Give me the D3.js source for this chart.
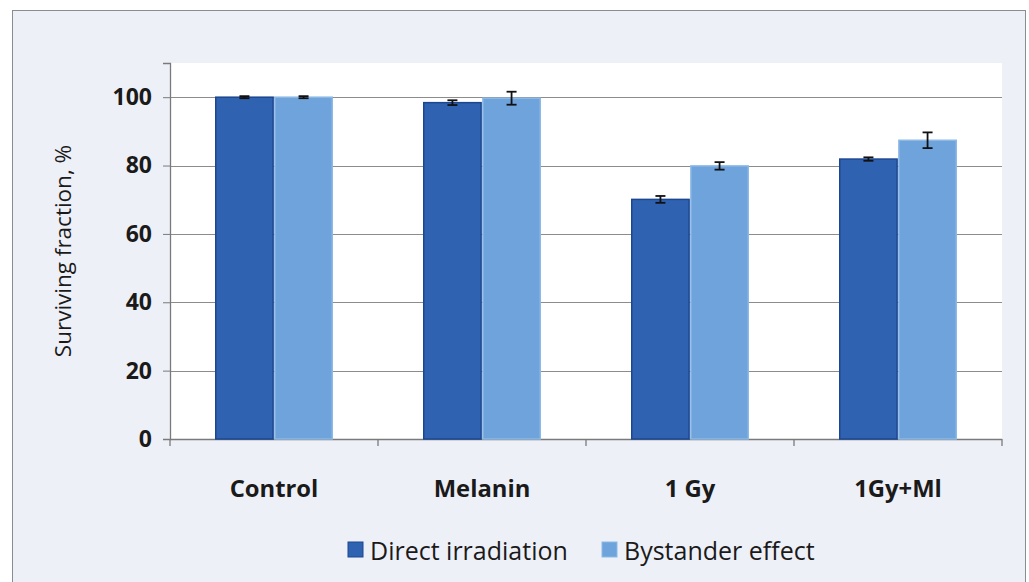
<!DOCTYPE html>
<html>
<head>
<meta charset="utf-8">
<script src="https://cdn.jsdelivr.net/npm/d3@7"></script>
<style>
  body { margin: 0; background: #ffffff; }
  svg { display: block; font-family: "Open Sans", sans-serif; }
</style>
</head>
<body>
<script>
"use strict";

var categories = ["Control", "Melanin", "1 Gy", "1Gy+Ml"];
var seriesNames = ["Direct irradiation", "Bystander effect"];
var directValues = [100, 98.4, 70.1, 81.9];
var directErrors = [0.3, 0.7, 1.0, 0.5];
var bystanderValues = [100, 99.7, 79.9, 87.4];
var bystanderErrors = [0.3, 1.9, 1.1, 2.3];
var yTicks = [0, 20, 40, 60, 80, 100];

function draw_chart() {
    var width = 1029;
    var height = 582;
    var colors = ["#2f63b2", "#6ea3dc"];
    var strokes = ["#1c4790", "#8cb9e6"];

    var svg = d3.select("body")
        .append("svg")
        .attr("width", width)
        .attr("height", height);

    // outer chart frame
    svg.append("rect")
        .attr("x", 12.5).attr("y", 10.5)
        .attr("width", 1013).attr("height", 580)
        .attr("fill", "#eef0f8")
        .attr("stroke", "#8a8c92");

    var plot = { left: 170, right: 1002, top: 63, bottom: 439 };

    // plot area
    svg.append("rect")
        .attr("x", plot.left).attr("y", plot.top)
        .attr("width", plot.right - plot.left)
        .attr("height", plot.bottom - plot.top)
        .attr("fill", "#ffffff");

    var x0 = d3.scaleBand()
        .domain(categories)
        .range([plot.left, plot.right])
        .paddingInner(0.44)
        .paddingOuter(0.22);
    var x1 = d3.scaleBand()
        .domain([0, 1])
        .range([0, x0.bandwidth()])
        .paddingInner(0.03);
    var y = d3.scaleLinear()
        .domain([0, 110])
        .range([plot.bottom, plot.top]);

    // gridlines
    svg.append("g")
        .selectAll("line")
        .data(yTicks.filter(function(d) { return d > 0; }))
        .enter()
        .append("line")
        .attr("x1", plot.left).attr("x2", plot.right)
        .attr("y1", function(d) { return Math.round(y(d)) + 0.5; })
        .attr("y2", function(d) { return Math.round(y(d)) + 0.5; })
        .attr("stroke", "#8c8c8c")
        .attr("stroke-width", 1.2);

    // y axis
    var yAxis = svg.append("g")
        .attr("transform", "translate(" + plot.left + ",0)")
        .call(d3.axisLeft(y).tickValues(yTicks).tickSize(7).tickPadding(11));
    yAxis.select(".domain").attr("stroke", "#7a7a7a").attr("stroke-width", 1.3);
    yAxis.selectAll(".tick line").attr("stroke", "#7a7a7a");
    yAxis.selectAll("text")
        .attr("font-size", 23)
        .attr("font-weight", "bold")
        .attr("fill", "#1a1a1a")
        .attr("font-family", "Open Sans, sans-serif");

    // x axis with ticks on category boundaries
    var step = (plot.right - plot.left) / categories.length;
    var bounds = d3.range(categories.length + 1).map(function(i) { return plot.left + i * step; });
    svg.append("line")
        .attr("x1", plot.left).attr("x2", plot.right)
        .attr("y1", plot.bottom + 0.5).attr("y2", plot.bottom + 0.5)
        .attr("stroke", "#7a7a7a").attr("stroke-width", 1.3);
    svg.selectAll(".xtick")
        .data(bounds)
        .enter()
        .append("line")
        .attr("class", "xtick")
        .attr("x1", function(d) { return d; }).attr("x2", function(d) { return d; })
        .attr("y1", plot.bottom).attr("y2", plot.bottom + 7)
        .attr("stroke", "#7a7a7a").attr("stroke-width", 1.3);
    svg.selectAll(".xlabel")
        .data(categories)
        .enter()
        .append("text")
        .attr("class", "xlabel")
        .attr("x", function(d) { return x0(d) + x0.bandwidth() / 2; })
        .attr("y", 497)
        .attr("text-anchor", "middle")
        .attr("font-size", 23.8)
        .attr("font-weight", "bold")
        .attr("fill", "#1a1a1a")
        .text(function(d) { return d; });

    // bars
    var series = [
        { values: directValues, errors: directErrors },
        { values: bystanderValues, errors: bystanderErrors }
    ];
    series.forEach(function(s, si) {
        var g = svg.append("g");
        g.selectAll("rect")
            .data(categories)
            .enter()
            .append("rect")
            .attr("x", function(d) { return x0(d) + x1(si); })
            .attr("y", function(d, i) { return y(s.values[i]); })
            .attr("width", x1.bandwidth())
            .attr("height", function(d, i) { return y(0) - y(s.values[i]); })
            .attr("fill", colors[si])
            .attr("stroke", strokes[si])
            .attr("stroke-width", 1.5);
    });

    // error bars
    series.forEach(function(s, si) {
        var g = svg.append("g")
            .attr("stroke", "#111111")
            .attr("stroke-width", 1.8);
        categories.forEach(function(c, i) {
            var cx = x0(c) + x1(si) + x1.bandwidth() / 2;
            var lo = y(s.values[i] - s.errors[i]);
            var hi = y(s.values[i] + s.errors[i]);
            g.append("line").attr("x1", cx).attr("x2", cx).attr("y1", lo).attr("y2", hi);
            g.append("line").attr("x1", cx - 5).attr("x2", cx + 5).attr("y1", lo).attr("y2", lo);
            g.append("line").attr("x1", cx - 5).attr("x2", cx + 5).attr("y1", hi).attr("y2", hi);
        });
    });

    // y axis title
    svg.append("text")
        .attr("transform", "translate(71," + (plot.top + plot.bottom) / 2 + ")rotate(-90)")
        .attr("text-anchor", "middle")
        .attr("font-size", 22.5)
        .attr("fill", "#1a1a1a")
        .text("Surviving fraction, %");

    // legend
    var legendX = [348, 602];
    var legend = svg.selectAll(".legend")
        .data(seriesNames)
        .enter()
        .append("g")
        .attr("class", "legend")
        .attr("transform", function(d, i) { return "translate(" + legendX[i] + ",542)"; });
    legend.append("rect")
        .attr("width", 15).attr("height", 15)
        .attr("fill", function(d, i) { return colors[i]; })
        .attr("stroke", function(d, i) { return strokes[i]; });
    legend.append("text")
        .attr("x", 22).attr("y", 18)
        .attr("font-size", 25)
        .attr("fill", "#1a1a1a")
        .text(function(d) { return d; });
}

draw_chart();
</script>
</body>
</html>
